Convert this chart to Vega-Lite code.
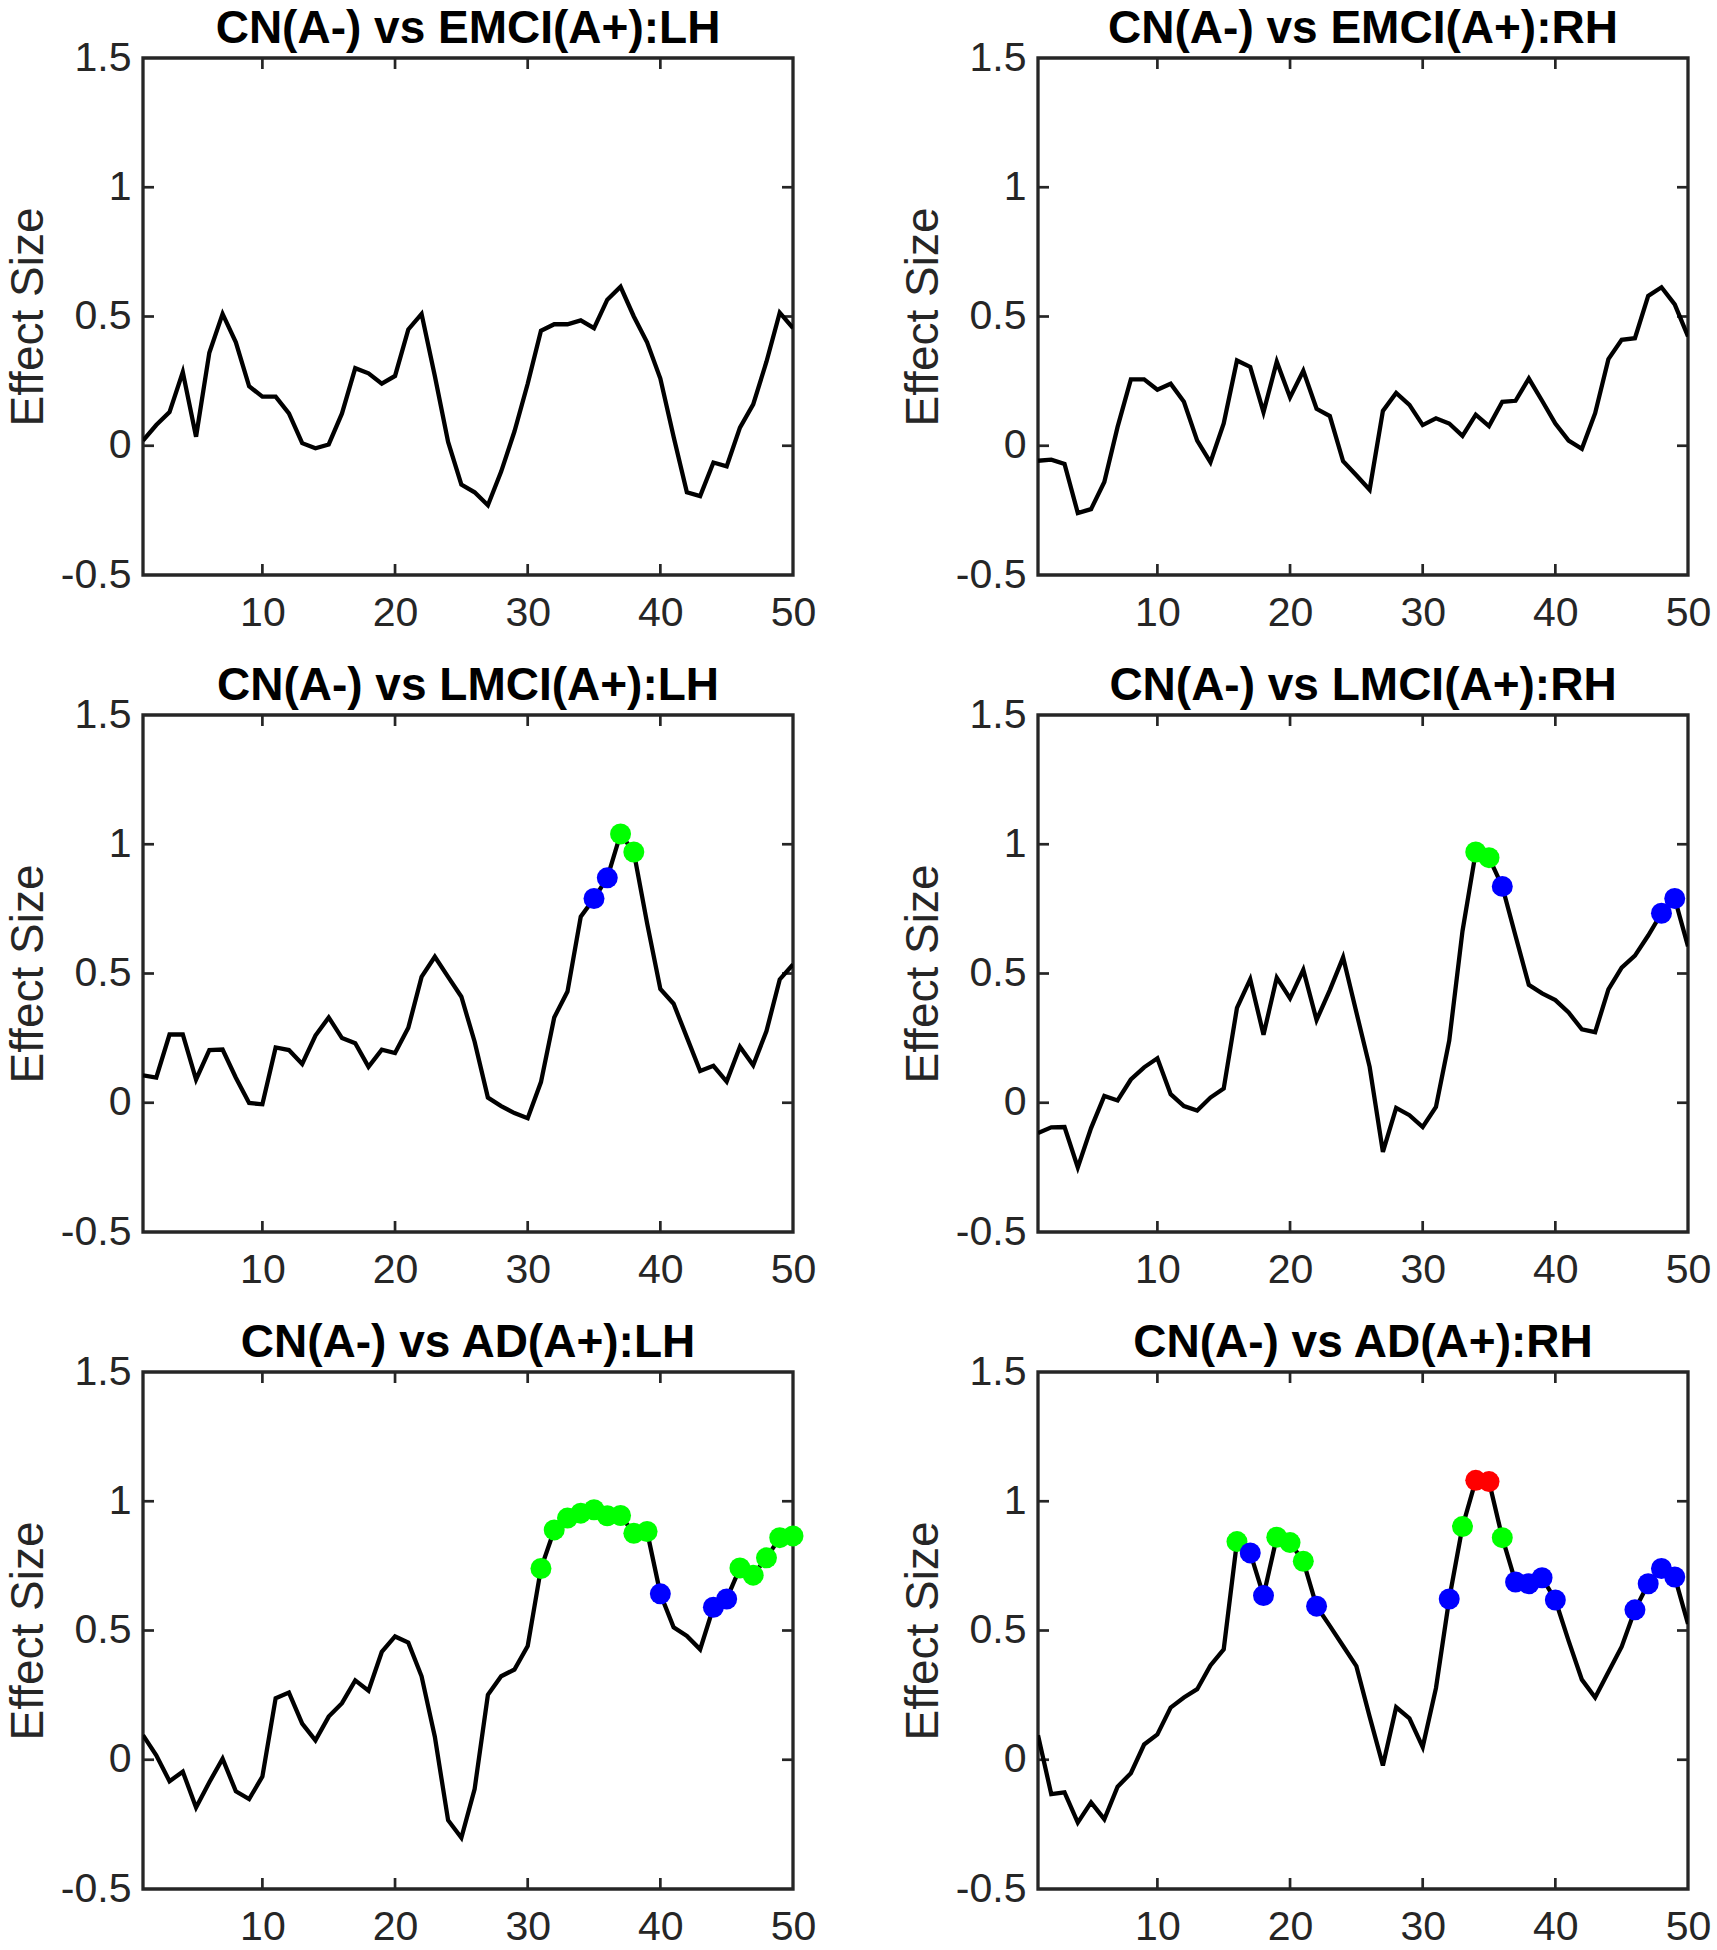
{
  "$schema": "https://vega.github.io/schema/vega-lite/v6.json",
  "background": "white",
  "padding": {"left": 3, "top": 4, "right": 0, "bottom": 0},
  "columns": 2,
  "spacing": {"row": 26, "column": 80},
  "datasets": {
    "ticks": [
      {"o":"v","x":10,"y":-0.5},{"o":"v","x":20,"y":-0.5},{"o":"v","x":30,"y":-0.5},{"o":"v","x":40,"y":-0.5},
      {"o":"v","x":10,"y":1.5},{"o":"v","x":20,"y":1.5},{"o":"v","x":30,"y":1.5},{"o":"v","x":40,"y":1.5},
      {"o":"h","x":1,"y":0},{"o":"h","x":1,"y":0.5},{"o":"h","x":1,"y":1},
      {"o":"h","x":50,"y":0},{"o":"h","x":50,"y":0.5},{"o":"h","x":50,"y":1}
    ],
    "d": [
      {"p":"A","x":1,"y":0.02},{"p":"A","x":2,"y":0.08},{"p":"A","x":3,"y":0.13},{"p":"A","x":4,"y":0.285},{"p":"A","x":5,"y":0.035},
      {"p":"A","x":6,"y":0.36},{"p":"A","x":7,"y":0.51},{"p":"A","x":8,"y":0.4},{"p":"A","x":9,"y":0.23},{"p":"A","x":10,"y":0.19},
      {"p":"A","x":11,"y":0.19},{"p":"A","x":12,"y":0.125},{"p":"A","x":13,"y":0.01},{"p":"A","x":14,"y":-0.01},{"p":"A","x":15,"y":0.005},
      {"p":"A","x":16,"y":0.125},{"p":"A","x":17,"y":0.3},{"p":"A","x":18,"y":0.28},{"p":"A","x":19,"y":0.24},{"p":"A","x":20,"y":0.27},
      {"p":"A","x":21,"y":0.45},{"p":"A","x":22,"y":0.51},{"p":"A","x":23,"y":0.27},{"p":"A","x":24,"y":0.015},{"p":"A","x":25,"y":-0.15},
      {"p":"A","x":26,"y":-0.18},{"p":"A","x":27,"y":-0.23},{"p":"A","x":28,"y":-0.1},{"p":"A","x":29,"y":0.055},{"p":"A","x":30,"y":0.24},
      {"p":"A","x":31,"y":0.445},{"p":"A","x":32,"y":0.47},{"p":"A","x":33,"y":0.47},{"p":"A","x":34,"y":0.485},{"p":"A","x":35,"y":0.455},
      {"p":"A","x":36,"y":0.565},{"p":"A","x":37,"y":0.615},{"p":"A","x":38,"y":0.5},{"p":"A","x":39,"y":0.4},{"p":"A","x":40,"y":0.26},
      {"p":"A","x":41,"y":0.035},{"p":"A","x":42,"y":-0.18},{"p":"A","x":43,"y":-0.195},{"p":"A","x":44,"y":-0.065},{"p":"A","x":45,"y":-0.08},
      {"p":"A","x":46,"y":0.07},{"p":"A","x":47,"y":0.16},{"p":"A","x":48,"y":0.325},{"p":"A","x":49,"y":0.515},{"p":"A","x":50,"y":0.455},

      {"p":"B","x":1,"y":-0.058},{"p":"B","x":2,"y":-0.054},{"p":"B","x":3,"y":-0.07},{"p":"B","x":4,"y":-0.26},{"p":"B","x":5,"y":-0.245},
      {"p":"B","x":6,"y":-0.14},{"p":"B","x":7,"y":0.073},{"p":"B","x":8,"y":0.257},{"p":"B","x":9,"y":0.257},{"p":"B","x":10,"y":0.217},
      {"p":"B","x":11,"y":0.24},{"p":"B","x":12,"y":0.17},{"p":"B","x":13,"y":0.02},{"p":"B","x":14,"y":-0.064},{"p":"B","x":15,"y":0.086},
      {"p":"B","x":16,"y":0.33},{"p":"B","x":17,"y":0.305},{"p":"B","x":18,"y":0.13},{"p":"B","x":19,"y":0.325},{"p":"B","x":20,"y":0.187},
      {"p":"B","x":21,"y":0.29},{"p":"B","x":22,"y":0.143},{"p":"B","x":23,"y":0.115},{"p":"B","x":24,"y":-0.06},{"p":"B","x":25,"y":-0.114},
      {"p":"B","x":26,"y":-0.17},{"p":"B","x":27,"y":0.135},{"p":"B","x":28,"y":0.204},{"p":"B","x":29,"y":0.158},{"p":"B","x":30,"y":0.08},
      {"p":"B","x":31,"y":0.106},{"p":"B","x":32,"y":0.086},{"p":"B","x":33,"y":0.038},{"p":"B","x":34,"y":0.12},{"p":"B","x":35,"y":0.076},
      {"p":"B","x":36,"y":0.17},{"p":"B","x":37,"y":0.174},{"p":"B","x":38,"y":0.26},{"p":"B","x":39,"y":0.174},{"p":"B","x":40,"y":0.086},
      {"p":"B","x":41,"y":0.02},{"p":"B","x":42,"y":-0.012},{"p":"B","x":43,"y":0.126},{"p":"B","x":44,"y":0.335},{"p":"B","x":45,"y":0.41},
      {"p":"B","x":46,"y":0.416},{"p":"B","x":47,"y":0.58},{"p":"B","x":48,"y":0.613},{"p":"B","x":49,"y":0.547},{"p":"B","x":50,"y":0.423},

      {"p":"C","x":1,"y":0.106},{"p":"C","x":2,"y":0.097},{"p":"C","x":3,"y":0.264},{"p":"C","x":4,"y":0.264},{"p":"C","x":5,"y":0.09},
      {"p":"C","x":6,"y":0.204},{"p":"C","x":7,"y":0.206},{"p":"C","x":8,"y":0.097},{"p":"C","x":9,"y":-0.001},{"p":"C","x":10,"y":-0.006},
      {"p":"C","x":11,"y":0.214},{"p":"C","x":12,"y":0.204},{"p":"C","x":13,"y":0.15},{"p":"C","x":14,"y":0.26},{"p":"C","x":15,"y":0.33},
      {"p":"C","x":16,"y":0.25},{"p":"C","x":17,"y":0.23},{"p":"C","x":18,"y":0.139},{"p":"C","x":19,"y":0.205},{"p":"C","x":20,"y":0.192},
      {"p":"C","x":21,"y":0.29},{"p":"C","x":22,"y":0.487},{"p":"C","x":23,"y":0.565},{"p":"C","x":24,"y":0.487},{"p":"C","x":25,"y":0.41},
      {"p":"C","x":26,"y":0.236},{"p":"C","x":27,"y":0.02},{"p":"C","x":28,"y":-0.013},{"p":"C","x":29,"y":-0.04},{"p":"C","x":30,"y":-0.06},
      {"p":"C","x":31,"y":0.08},{"p":"C","x":32,"y":0.33},{"p":"C","x":33,"y":0.43},{"p":"C","x":34,"y":0.72},{"p":"C","x":35,"y":0.79,"s":"b"},
      {"p":"C","x":36,"y":0.87,"s":"b"},{"p":"C","x":37,"y":1.04,"s":"g"},{"p":"C","x":38,"y":0.97,"s":"g"},{"p":"C","x":39,"y":0.695},{"p":"C","x":40,"y":0.44},
      {"p":"C","x":41,"y":0.383},{"p":"C","x":42,"y":0.253},{"p":"C","x":43,"y":0.123},{"p":"C","x":44,"y":0.143},{"p":"C","x":45,"y":0.082},
      {"p":"C","x":46,"y":0.217},{"p":"C","x":47,"y":0.145},{"p":"C","x":48,"y":0.277},{"p":"C","x":49,"y":0.477},{"p":"C","x":50,"y":0.535},

      {"p":"D","x":1,"y":-0.117},{"p":"D","x":2,"y":-0.095},{"p":"D","x":3,"y":-0.094},{"p":"D","x":4,"y":-0.25},{"p":"D","x":5,"y":-0.098},
      {"p":"D","x":6,"y":0.026},{"p":"D","x":7,"y":0.009},{"p":"D","x":8,"y":0.09},{"p":"D","x":9,"y":0.137},{"p":"D","x":10,"y":0.172},
      {"p":"D","x":11,"y":0.033},{"p":"D","x":12,"y":-0.013},{"p":"D","x":13,"y":-0.03},{"p":"D","x":14,"y":0.02},{"p":"D","x":15,"y":0.055},
      {"p":"D","x":16,"y":0.367},{"p":"D","x":17,"y":0.478},{"p":"D","x":18,"y":0.263},{"p":"D","x":19,"y":0.484},{"p":"D","x":20,"y":0.404},
      {"p":"D","x":21,"y":0.514},{"p":"D","x":22,"y":0.32},{"p":"D","x":23,"y":0.436},{"p":"D","x":24,"y":0.5625},{"p":"D","x":25,"y":0.35},
      {"p":"D","x":26,"y":0.139},{"p":"D","x":27,"y":-0.19},{"p":"D","x":28,"y":-0.02},{"p":"D","x":29,"y":-0.048},{"p":"D","x":30,"y":-0.094},
      {"p":"D","x":31,"y":-0.016},{"p":"D","x":32,"y":0.24},{"p":"D","x":33,"y":0.664},{"p":"D","x":34,"y":0.97,"s":"g"},{"p":"D","x":35,"y":0.948,"s":"g"},
      {"p":"D","x":36,"y":0.837,"s":"b"},{"p":"D","x":37,"y":0.645},{"p":"D","x":38,"y":0.456},{"p":"D","x":39,"y":0.423},{"p":"D","x":40,"y":0.397},
      {"p":"D","x":41,"y":0.349},{"p":"D","x":42,"y":0.284},{"p":"D","x":43,"y":0.273},{"p":"D","x":44,"y":0.439},{"p":"D","x":45,"y":0.523},
      {"p":"D","x":46,"y":0.569},{"p":"D","x":47,"y":0.647},{"p":"D","x":48,"y":0.733,"s":"b"},{"p":"D","x":49,"y":0.79,"s":"b"},{"p":"D","x":50,"y":0.605},

      {"p":"E","x":1,"y":0.095},{"p":"E","x":2,"y":0.017},{"p":"E","x":3,"y":-0.083},{"p":"E","x":4,"y":-0.046},{"p":"E","x":5,"y":-0.185},
      {"p":"E","x":6,"y":-0.087},{"p":"E","x":7,"y":0.004},{"p":"E","x":8,"y":-0.122},{"p":"E","x":9,"y":-0.152},{"p":"E","x":10,"y":-0.065},
      {"p":"E","x":11,"y":0.238},{"p":"E","x":12,"y":0.26},{"p":"E","x":13,"y":0.14},{"p":"E","x":14,"y":0.075},{"p":"E","x":15,"y":0.167},
      {"p":"E","x":16,"y":0.219},{"p":"E","x":17,"y":0.307},{"p":"E","x":18,"y":0.267},{"p":"E","x":19,"y":0.417},{"p":"E","x":20,"y":0.477},
      {"p":"E","x":21,"y":0.453},{"p":"E","x":22,"y":0.323},{"p":"E","x":23,"y":0.089},{"p":"E","x":24,"y":-0.234},{"p":"E","x":25,"y":-0.302},
      {"p":"E","x":26,"y":-0.113},{"p":"E","x":27,"y":0.251},{"p":"E","x":28,"y":0.323},{"p":"E","x":29,"y":0.349},{"p":"E","x":30,"y":0.44},
      {"p":"E","x":31,"y":0.74,"s":"g"},{"p":"E","x":32,"y":0.889,"s":"g"},{"p":"E","x":33,"y":0.935,"s":"g"},{"p":"E","x":34,"y":0.954,"s":"g"},{"p":"E","x":35,"y":0.967,"s":"g"},
      {"p":"E","x":36,"y":0.944,"s":"g"},{"p":"E","x":37,"y":0.945,"s":"g"},{"p":"E","x":38,"y":0.876,"s":"g"},{"p":"E","x":39,"y":0.883,"s":"g"},{"p":"E","x":40,"y":0.642,"s":"b"},
      {"p":"E","x":41,"y":0.512},{"p":"E","x":42,"y":0.479},{"p":"E","x":43,"y":0.427},{"p":"E","x":44,"y":0.59,"s":"b"},{"p":"E","x":45,"y":0.622,"s":"b"},
      {"p":"E","x":46,"y":0.742,"s":"g"},{"p":"E","x":47,"y":0.714,"s":"g"},{"p":"E","x":48,"y":0.781,"s":"g"},{"p":"E","x":49,"y":0.859,"s":"g"},{"p":"E","x":50,"y":0.866,"s":"g"},

      {"p":"F","x":1,"y":0.095},{"p":"F","x":2,"y":-0.133},{"p":"F","x":3,"y":-0.126},{"p":"F","x":4,"y":-0.243},{"p":"F","x":5,"y":-0.165},
      {"p":"F","x":6,"y":-0.23},{"p":"F","x":7,"y":-0.104},{"p":"F","x":8,"y":-0.052},{"p":"F","x":9,"y":0.059},{"p":"F","x":10,"y":0.098},
      {"p":"F","x":11,"y":0.202},{"p":"F","x":12,"y":0.241},{"p":"F","x":13,"y":0.273},{"p":"F","x":14,"y":0.365},{"p":"F","x":15,"y":0.427},
      {"p":"F","x":16,"y":0.844,"s":"g"},{"p":"F","x":17,"y":0.8,"s":"b"},{"p":"F","x":18,"y":0.635,"s":"b"},{"p":"F","x":19,"y":0.861,"s":"g"},{"p":"F","x":20,"y":0.84,"s":"g"},
      {"p":"F","x":21,"y":0.768,"s":"g"},{"p":"F","x":22,"y":0.594,"s":"b"},{"p":"F","x":23,"y":0.518},{"p":"F","x":24,"y":0.44},{"p":"F","x":25,"y":0.362},
      {"p":"F","x":26,"y":0.167},{"p":"F","x":27,"y":-0.022},{"p":"F","x":28,"y":0.203},{"p":"F","x":29,"y":0.16},{"p":"F","x":30,"y":0.049},
      {"p":"F","x":31,"y":0.277},{"p":"F","x":32,"y":0.622,"s":"b"},{"p":"F","x":33,"y":0.902,"s":"g"},{"p":"F","x":34,"y":1.081,"s":"r"},{"p":"F","x":35,"y":1.076,"s":"r"},
      {"p":"F","x":36,"y":0.859,"s":"g"},{"p":"F","x":37,"y":0.6875,"s":"b"},{"p":"F","x":38,"y":0.681,"s":"b"},{"p":"F","x":39,"y":0.704,"s":"b"},{"p":"F","x":40,"y":0.618,"s":"b"},
      {"p":"F","x":41,"y":0.46},{"p":"F","x":42,"y":0.31},{"p":"F","x":43,"y":0.241},{"p":"F","x":44,"y":0.339},{"p":"F","x":45,"y":0.4375},
      {"p":"F","x":46,"y":0.58,"s":"b"},{"p":"F","x":47,"y":0.681,"s":"b"},{"p":"F","x":48,"y":0.74,"s":"b"},{"p":"F","x":49,"y":0.707,"s":"b"},{"p":"F","x":50,"y":0.525}
    ]
  },
  "concat": [
    {
      "title": "CN(A-) vs EMCI(A+):LH", "width": 650, "height": 517,
      "encoding": {
        "x": {"field": "x", "type": "quantitative", "scale": {"domain": [1, 50], "nice": false, "zero": false}, "axis": {"values": [10, 20, 30, 40, 50], "title": null, "labelFlush": false}},
        "y": {"field": "y", "type": "quantitative", "scale": {"domain": [-0.5, 1.5], "nice": false, "zero": false}, "axis": {"values": [-0.5, 0, 0.5, 1, 1.5], "title": "Effect Size", "labelExpr": "'' + datum.value"}}
      },
      "layer": [
        {"data": {"name": "ticks"}, "transform": [{"filter": "datum.o == 'v'"}], "mark": {"type": "tick", "orient": "vertical", "size": 22, "thickness": 2.7, "clip": true, "color": "#262626", "opacity": 1}},
        {"data": {"name": "ticks"}, "transform": [{"filter": "datum.o == 'h'"}], "mark": {"type": "tick", "orient": "horizontal", "size": 22, "thickness": 2.7, "clip": true, "color": "#262626", "opacity": 1}},
        {"data": {"name": "d"}, "transform": [{"filter": "datum.p == 'A'"}], "mark": {"type": "line", "color": "#000000", "strokeWidth": 4.3, "clip": true}},
        {"data": {"name": "d"}, "transform": [{"filter": "datum.p == 'A' && datum.s"}], "mark": {"type": "circle", "size": 440, "opacity": 1}, "encoding": {"color": {"field": "s", "type": "nominal", "scale": {"domain": ["g", "b", "r"], "range": ["#00ff00", "#0000ff", "#ff0000"]}, "legend": null}}}
      ]
    },
    {
      "title": "CN(A-) vs EMCI(A+):RH", "width": 650, "height": 517,
      "encoding": {
        "x": {"field": "x", "type": "quantitative", "scale": {"domain": [1, 50], "nice": false, "zero": false}, "axis": {"values": [10, 20, 30, 40, 50], "title": null, "labelFlush": false}},
        "y": {"field": "y", "type": "quantitative", "scale": {"domain": [-0.5, 1.5], "nice": false, "zero": false}, "axis": {"values": [-0.5, 0, 0.5, 1, 1.5], "title": "Effect Size", "labelExpr": "'' + datum.value"}}
      },
      "layer": [
        {"data": {"name": "ticks"}, "transform": [{"filter": "datum.o == 'v'"}], "mark": {"type": "tick", "orient": "vertical", "size": 22, "thickness": 2.7, "clip": true, "color": "#262626", "opacity": 1}},
        {"data": {"name": "ticks"}, "transform": [{"filter": "datum.o == 'h'"}], "mark": {"type": "tick", "orient": "horizontal", "size": 22, "thickness": 2.7, "clip": true, "color": "#262626", "opacity": 1}},
        {"data": {"name": "d"}, "transform": [{"filter": "datum.p == 'B'"}], "mark": {"type": "line", "color": "#000000", "strokeWidth": 4.3, "clip": true}},
        {"data": {"name": "d"}, "transform": [{"filter": "datum.p == 'B' && datum.s"}], "mark": {"type": "circle", "size": 440, "opacity": 1}, "encoding": {"color": {"field": "s", "type": "nominal", "scale": {"domain": ["g", "b", "r"], "range": ["#00ff00", "#0000ff", "#ff0000"]}, "legend": null}}}
      ]
    },
    {
      "title": "CN(A-) vs LMCI(A+):LH", "width": 650, "height": 517,
      "encoding": {
        "x": {"field": "x", "type": "quantitative", "scale": {"domain": [1, 50], "nice": false, "zero": false}, "axis": {"values": [10, 20, 30, 40, 50], "title": null, "labelFlush": false}},
        "y": {"field": "y", "type": "quantitative", "scale": {"domain": [-0.5, 1.5], "nice": false, "zero": false}, "axis": {"values": [-0.5, 0, 0.5, 1, 1.5], "title": "Effect Size", "labelExpr": "'' + datum.value"}}
      },
      "layer": [
        {"data": {"name": "ticks"}, "transform": [{"filter": "datum.o == 'v'"}], "mark": {"type": "tick", "orient": "vertical", "size": 22, "thickness": 2.7, "clip": true, "color": "#262626", "opacity": 1}},
        {"data": {"name": "ticks"}, "transform": [{"filter": "datum.o == 'h'"}], "mark": {"type": "tick", "orient": "horizontal", "size": 22, "thickness": 2.7, "clip": true, "color": "#262626", "opacity": 1}},
        {"data": {"name": "d"}, "transform": [{"filter": "datum.p == 'C'"}], "mark": {"type": "line", "color": "#000000", "strokeWidth": 4.3, "clip": true}},
        {"data": {"name": "d"}, "transform": [{"filter": "datum.p == 'C' && datum.s"}], "mark": {"type": "circle", "size": 440, "opacity": 1}, "encoding": {"color": {"field": "s", "type": "nominal", "scale": {"domain": ["g", "b", "r"], "range": ["#00ff00", "#0000ff", "#ff0000"]}, "legend": null}}}
      ]
    },
    {
      "title": "CN(A-) vs LMCI(A+):RH", "width": 650, "height": 517,
      "encoding": {
        "x": {"field": "x", "type": "quantitative", "scale": {"domain": [1, 50], "nice": false, "zero": false}, "axis": {"values": [10, 20, 30, 40, 50], "title": null, "labelFlush": false}},
        "y": {"field": "y", "type": "quantitative", "scale": {"domain": [-0.5, 1.5], "nice": false, "zero": false}, "axis": {"values": [-0.5, 0, 0.5, 1, 1.5], "title": "Effect Size", "labelExpr": "'' + datum.value"}}
      },
      "layer": [
        {"data": {"name": "ticks"}, "transform": [{"filter": "datum.o == 'v'"}], "mark": {"type": "tick", "orient": "vertical", "size": 22, "thickness": 2.7, "clip": true, "color": "#262626", "opacity": 1}},
        {"data": {"name": "ticks"}, "transform": [{"filter": "datum.o == 'h'"}], "mark": {"type": "tick", "orient": "horizontal", "size": 22, "thickness": 2.7, "clip": true, "color": "#262626", "opacity": 1}},
        {"data": {"name": "d"}, "transform": [{"filter": "datum.p == 'D'"}], "mark": {"type": "line", "color": "#000000", "strokeWidth": 4.3, "clip": true}},
        {"data": {"name": "d"}, "transform": [{"filter": "datum.p == 'D' && datum.s"}], "mark": {"type": "circle", "size": 440, "opacity": 1}, "encoding": {"color": {"field": "s", "type": "nominal", "scale": {"domain": ["g", "b", "r"], "range": ["#00ff00", "#0000ff", "#ff0000"]}, "legend": null}}}
      ]
    },
    {
      "title": "CN(A-) vs AD(A+):LH", "width": 650, "height": 517,
      "encoding": {
        "x": {"field": "x", "type": "quantitative", "scale": {"domain": [1, 50], "nice": false, "zero": false}, "axis": {"values": [10, 20, 30, 40, 50], "title": null, "labelFlush": false}},
        "y": {"field": "y", "type": "quantitative", "scale": {"domain": [-0.5, 1.5], "nice": false, "zero": false}, "axis": {"values": [-0.5, 0, 0.5, 1, 1.5], "title": "Effect Size", "labelExpr": "'' + datum.value"}}
      },
      "layer": [
        {"data": {"name": "ticks"}, "transform": [{"filter": "datum.o == 'v'"}], "mark": {"type": "tick", "orient": "vertical", "size": 22, "thickness": 2.7, "clip": true, "color": "#262626", "opacity": 1}},
        {"data": {"name": "ticks"}, "transform": [{"filter": "datum.o == 'h'"}], "mark": {"type": "tick", "orient": "horizontal", "size": 22, "thickness": 2.7, "clip": true, "color": "#262626", "opacity": 1}},
        {"data": {"name": "d"}, "transform": [{"filter": "datum.p == 'E'"}], "mark": {"type": "line", "color": "#000000", "strokeWidth": 4.3, "clip": true}},
        {"data": {"name": "d"}, "transform": [{"filter": "datum.p == 'E' && datum.s"}], "mark": {"type": "circle", "size": 440, "opacity": 1}, "encoding": {"color": {"field": "s", "type": "nominal", "scale": {"domain": ["g", "b", "r"], "range": ["#00ff00", "#0000ff", "#ff0000"]}, "legend": null}}}
      ]
    },
    {
      "title": "CN(A-) vs AD(A+):RH", "width": 650, "height": 517,
      "encoding": {
        "x": {"field": "x", "type": "quantitative", "scale": {"domain": [1, 50], "nice": false, "zero": false}, "axis": {"values": [10, 20, 30, 40, 50], "title": null, "labelFlush": false}},
        "y": {"field": "y", "type": "quantitative", "scale": {"domain": [-0.5, 1.5], "nice": false, "zero": false}, "axis": {"values": [-0.5, 0, 0.5, 1, 1.5], "title": "Effect Size", "labelExpr": "'' + datum.value"}}
      },
      "layer": [
        {"data": {"name": "ticks"}, "transform": [{"filter": "datum.o == 'v'"}], "mark": {"type": "tick", "orient": "vertical", "size": 22, "thickness": 2.7, "clip": true, "color": "#262626", "opacity": 1}},
        {"data": {"name": "ticks"}, "transform": [{"filter": "datum.o == 'h'"}], "mark": {"type": "tick", "orient": "horizontal", "size": 22, "thickness": 2.7, "clip": true, "color": "#262626", "opacity": 1}},
        {"data": {"name": "d"}, "transform": [{"filter": "datum.p == 'F'"}], "mark": {"type": "line", "color": "#000000", "strokeWidth": 4.3, "clip": true}},
        {"data": {"name": "d"}, "transform": [{"filter": "datum.p == 'F' && datum.s"}], "mark": {"type": "circle", "size": 440, "opacity": 1}, "encoding": {"color": {"field": "s", "type": "nominal", "scale": {"domain": ["g", "b", "r"], "range": ["#00ff00", "#0000ff", "#ff0000"]}, "legend": null}}}
      ]
    }
  ],
  "config": {
    "font": "Liberation Sans",
    "view": {"stroke": "#262626", "strokeWidth": 3.3},
    "axis": {
      "domain": false, "grid": false, "ticks": false,
      "labelFont": "Liberation Sans", "labelFontSize": 41, "labelColor": "#262626",
      "titleFont": "Liberation Sans", "titleFontSize": 46, "titleFontWeight": "normal", "titleColor": "#262626"
    },
    "axisX": {"labelPadding": 18},
    "axisY": {"labelPadding": 12, "titlePadding": 8},
    "title": {"font": "Liberation Sans", "fontSize": 46, "fontWeight": "bold", "color": "#000000", "baseline": "alphabetic", "offset": -16}
  }
}
